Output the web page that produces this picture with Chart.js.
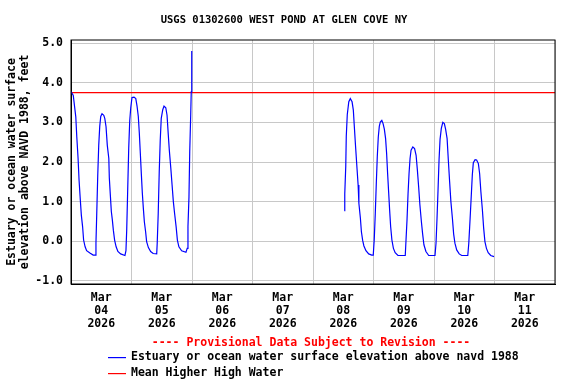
<!DOCTYPE html>
<html>
<head>
<meta charset="utf-8">
<script src="https://cdn.jsdelivr.net/npm/chart.js@4.4.1/dist/chart.umd.min.js"></script>
<style>
  html, body { margin: 0; padding: 0; background: #fff; }
</style>
</head>
<body>
<canvas id="chart" width="576" height="384"></canvas>
<script>
const siteTitle = "USGS 01302600 WEST POND AT GLEN COVE NY";
const provisionalNote = "---- Provisional Data Subject to Revision ----";
const yAxisTitle = ["Estuary or ocean water surface", "elevation above NAVD 1988, feet"];

// one label per day, drawn at noon
const dayLabels = [
    ["Mar", "04", "2026"], ["Mar", "05", "2026"], ["Mar", "06", "2026"], ["Mar", "07", "2026"],
    ["Mar", "08", "2026"], ["Mar", "09", "2026"], ["Mar", "10", "2026"], ["Mar", "11", "2026"]
];
const yTicks = [-1, 0, 1, 2, 3, 4, 5];

// hours since Mar 04 00:00 (null = gap in record)
const hours = [
    0, 0.9, 1.9, 2.3, 2.8, 3.2, 3.7, 4.1, 4.6, 5.0, 5.6, 6.2, 7.5, 8.8, 9.6, 9.9, 10.2, 10.6, 11.0, 11.4,
    11.8, 12.3, 13.0, 13.4, 13.9, 14.4, 15.0, 15.2, 15.6, 16.0, 16.4, 16.8, 17.3, 17.9, 18.6, 19.7, 21.4, 21.8, 22.1, 22.5,
    22.9, 23.3, 23.7, 24.2, 25.0, 25.7, 26.2, 26.7, 27.1, 27.5, 27.9, 28.3, 28.7, 29.1, 29.6, 30.0, 30.7, 31.6, 32.6, 34.0,
    34.2, 34.6, 35.0, 35.4, 35.8, 36.4, 36.9, 37.6, 38.1, 38.6, 39.0, 39.6, 40.1, 40.6, 41.1, 41.7, 42.2, 42.8, 43.9, 45.6,
    46.1, 46.4, 46.8, 47.1, 47.5, 47.7, 47.9,
    60,
    108.4, 108.6, 109.0, 109.2, 109.6, 110.2, 110.8, 111.5, 112.0, 112.4, 112.9, 113.5, 113.9, 114.2, 114.8, 115.2, 115.7, 116.2, 117.0, 118.1,
    119.3, 119.9, 120.3, 120.7, 121.1, 121.5, 121.9, 122.3, 122.7, 123.3, 123.8, 124.3, 124.8, 125.2, 125.6, 126.0, 126.4, 126.8, 127.3, 127.9,
    128.6, 129.7, 132.6, 132.9, 133.3, 133.7, 134.1, 134.5, 134.9, 135.6, 136.3, 136.9, 137.4, 137.9, 138.4, 139.0, 139.5, 140.0, 140.8, 141.9,
    144.4, 144.8, 145.2, 145.6, 146.0, 146.4, 146.9, 147.5, 148.1, 148.6, 149.2, 149.7, 150.2, 150.7, 151.3, 151.8, 152.3, 153.0, 154.0, 155.0,
    157.4, 157.8, 158.3, 158.7, 159.2, 159.6, 160.3, 160.9, 161.6, 162.1, 162.6, 163.2, 163.7, 164.2, 164.8, 165.5, 166.5, 167.8
];
const level = [
    3.78, 3.68, 3.14, 2.63, 2.10, 1.54, 1.04, 0.66, 0.37, 0.03, -0.14, -0.24, -0.30, -0.35, -0.35, -0.05, 0.66, 1.64, 2.42, 2.90,
    3.15, 3.22, 3.18, 3.10, 2.89, 2.42, 2.09, 1.60, 1.17, 0.75, 0.54, 0.28, 0.03, -0.14, -0.26, -0.32, -0.36, -0.24, 0.28, 1.32,
    2.35, 3.04, 3.37, 3.63, 3.64, 3.60, 3.41, 3.15, 2.73, 2.22, 1.70, 1.21, 0.83, 0.49, 0.24, -0.01, -0.16, -0.26, -0.31, -0.32,
    -0.05, 0.70, 1.75, 2.55, 3.10, 3.32, 3.41, 3.37, 3.18, 2.68, 2.30, 1.84, 1.42, 1.00, 0.70, 0.37, 0.03, -0.14, -0.24, -0.28,
    -0.18, 0.37, 1.12, 2.26, 3.22, 3.77, 4.80,
    null,
    0.77, 1.19, 1.90, 2.65, 3.20, 3.52, 3.60, 3.52, 3.31, 2.89, 2.38, 1.80, 1.42, 0.96, 0.58, 0.24, 0.02, -0.12, -0.24, -0.32,
    -0.35, -0.35, 0.05, 0.69, 1.44, 2.13, 2.63, 2.90, 3.01, 3.05, 2.97, 2.83, 2.59, 2.22, 1.71, 1.25, 0.79, 0.37, 0.03, -0.18,
    -0.29, -0.36, -0.36, 0.03, 0.54, 1.19, 1.71, 2.09, 2.30, 2.38, 2.34, 2.17, 1.80, 1.38, 0.92, 0.49, 0.18, -0.09, -0.26, -0.36,
    -0.36, -0.05, 0.58, 1.29, 2.05, 2.57, 2.85, 3.00, 2.97, 2.83, 2.59, 2.03, 1.50, 1.00, 0.58, 0.18, -0.05, -0.22, -0.32, -0.36,
    -0.36, -0.05, 0.54, 1.04, 1.67, 1.98, 2.06, 2.05, 1.96, 1.71, 1.25, 0.79, 0.33, -0.01, -0.18, -0.29, -0.36, -0.39
];

const mhhwHours = [0, 192];
const mhhwLevel = [3.75, 3.75];

const seriesColors = ['#0000ff', '#ff0000'];

const FONT = '"DejaVu Sans Mono", "Liberation Mono", monospace';

// title, box, provisional note and legend
const decorPlugin = {
    id: 'decor',
    afterDraw(chart) {
        const { ctx, chartArea } = chart;
        ctx.save();
        ctx.strokeStyle = '#000';
        ctx.lineWidth = 1;
        ctx.strokeRect(chartArea.left, chartArea.top, chartArea.right - chartArea.left, chartArea.bottom - chartArea.top);

        ctx.fillStyle = '#000';
        ctx.font = 'bold 10.5px ' + FONT;
        ctx.textAlign = 'center';
        ctx.textBaseline = 'middle';
        ctx.fillText(siteTitle, 284, 20);

        ctx.font = 'bold 11.5px ' + FONT;
        ctx.fillStyle = '#ff0000';
        ctx.fillText(provisionalNote, 311, 343);

        ctx.textAlign = 'left';
        const rows = [357, 373];
        chart.data.datasets.forEach((ds, i) => {
            const y = rows[i];
            ctx.fillStyle = seriesColors[i];
            ctx.fillRect(108, y, 18, 1.2);
            ctx.fillStyle = '#000';
            ctx.fillText(ds.label, 131, y);
        });
        ctx.restore();
    }
};

new Chart(document.getElementById('chart'), {
    type: 'line',
    data: {
        datasets: [
            {
                label: 'Estuary or ocean water surface elevation above navd 1988',
                data: hours.map((h, i) => ({ x: h, y: level[i] })),
                borderColor: seriesColors[0],
                borderWidth: 1.2,
                pointRadius: 0,
                spanGaps: false,
                tension: 0
            },
            {
                label: 'Mean Higher High Water',
                data: mhhwHours.map((h, i) => ({ x: h, y: mhhwLevel[i] })),
                borderColor: seriesColors[1],
                borderWidth: 1.2,
                pointRadius: 0
            }
        ]
    },
    options: {
        responsive: false,
        animation: false,
        devicePixelRatio: 1,
        layout: { padding: { top: 40, right: 21, left: 0, bottom: 0 } },
        plugins: {
            legend: { display: false },
            title: { display: false },
            tooltip: { enabled: false }
        },
        scales: {
            x: {
                type: 'linear',
                min: 0,
                max: 192,
                afterFit: s => { s.height = 100; },
                border: { display: true, color: '#000' },
                grid: {
                    drawTicks: false,
                    color: c => (c.tick && c.tick.value % 24 === 0) ? '#c8c8c8' : 'rgba(0,0,0,0)'
                },
                ticks: {
                    stepSize: 12,
                    autoSkip: false,
                    maxRotation: 0,
                    padding: 7,
                    color: '#000',
                    font: { family: FONT, size: 11.5, weight: 'bold', lineHeight: 1.16 },
                    callback: v => (v % 24 === 12) ? dayLabels[(v - 12) / 24] : ''
                }
            },
            y: {
                min: -1.08,
                max: 5.08,
                afterBuildTicks: s => { s.ticks = yTicks.map(v => ({ value: v })); },
                afterFit: s => { s.width = 71; },
                border: { display: true, color: '#000' },
                grid: { drawTicks: false, color: '#c8c8c8' },
                ticks: {
                    padding: 8,
                    color: '#000',
                    font: { family: FONT, size: 11.5, weight: 'bold' },
                    callback: v => v.toFixed(1)
                },
                title: {
                    display: true,
                    text: yAxisTitle,
                    color: '#000',
                    padding: { top: 5.5, bottom: 0 },
                    font: { family: FONT, size: 11.5, weight: 'bold', lineHeight: 1.13 }
                }
            }
        }
    },
    plugins: [decorPlugin]
});
</script>
</body>
</html>
